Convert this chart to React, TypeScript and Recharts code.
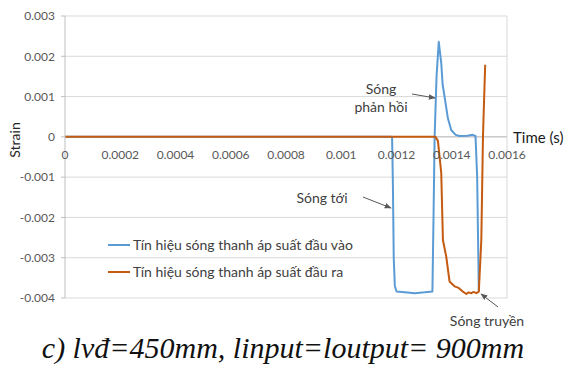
import { LineChart, Line, XAxis, YAxis, CartesianGrid, ReferenceLine, Legend } from "recharts";

const xTicks = [0, 0.0002, 0.0004, 0.0006, 0.0008, 0.001, 0.0012, 0.0014, 0.0016];
const yTicks = [-0.004, -0.003, -0.002, -0.001, 0, 0.001, 0.002, 0.003];

const seriesNames = ["Tín hiệu sóng thanh áp suất đầu vào", "Tín hiệu sóng thanh áp suất đầu ra"];

// input bar (blue)
const inputTime = [
  0, 0.001184, 0.001187, 0.00119, 0.001194, 0.0012, 0.00123, 0.001266, 0.001302, 0.00133, 0.001334,
  0.001338, 0.001345, 0.001353, 0.001362, 0.001367, 0.001374, 0.001386, 0.001398, 0.001414,
  0.001428, 0.001457, 0.001475, 0.001486, 0.001492, 0.001498,
];
const inputStrain = [
  0, 0, -0.0012, -0.003, -0.0037, -0.00384, -0.00386, -0.00388, -0.00386, -0.00384, -0.002,
  0, 0.0015, 0.00236, 0.00183, 0.0013, 0.001, 0.00046, 0.00017, 0.00005,
  0.00002, 0.00003, 0.00005, 0.00002, -0.001, -0.00384,
];

// output bar (orange)
const outputTime = [
  0, 0.001341, 0.00135, 0.001362, 0.001368, 0.00138, 0.001392, 0.00141, 0.001425, 0.00144,
  0.001453, 0.001461, 0.001471, 0.001479, 0.001489, 0.001498, 0.001507, 0.001513, 0.001521,
];
const outputStrain = [
  0, 0, -0.0001, -0.0009, -0.00256, -0.00297, -0.00359, -0.00371, -0.00375, -0.00384,
  -0.0039, -0.00386, -0.00388, -0.00385, -0.00388, -0.00384, -0.00256, 0, 0.00179,
];

const inputData = inputTime.map((t, i) => ({ t, v: inputStrain[i] }));
const outputData = outputTime.map((t, i) => ({ t, v: outputStrain[i] }));

const BLUE = "#5b9bd5";
const ORANGE = "#c55a11";
const FONT = "Lato, 'Open Sans', sans-serif";

const TOP = 16;
const PLOT_H = 282;
const ZERO_Y = TOP + (PLOT_H * 3) / 7;

function TimeTick(props: any) {
  const { x, payload } = props;
  return (
    <text x={x} y={ZERO_Y + 22} textAnchor="middle" fontSize={12} fill="#595959" fontFamily={FONT}>
      {payload.value}
    </text>
  );
}

function LegendBox(props: any) {
  const items = [...(props.payload || [])].sort(
    (a: any, b: any) => seriesNames.indexOf(a.value) - seriesNames.indexOf(b.value)
  );
  return (
    <div style={{ fontFamily: FONT, fontSize: 14, color: "#404040" }}>
      {items.map((it: any) => (
        <div key={it.value} style={{ display: "flex", alignItems: "center", height: 27 }}>
          <span style={{ display: "inline-block", width: 22, height: 2, background: it.color, marginRight: 3 }} />
          {it.value}
        </div>
      ))}
    </div>
  );
}

export default function App() {
  return (
    <div style={{ position: "absolute", left: 0, top: 0, width: 568, height: 365, background: "#fff" }}>
      <LineChart width={568} height={330} margin={{ top: TOP, right: 61, bottom: 12, left: 5 }}>
        <CartesianGrid stroke="#d9d9d9" vertical={false} />
        <XAxis
          type="number"
          dataKey="t"
          domain={[0, 0.0016]}
          ticks={xTicks}
          axisLine={false}
          tickLine={false}
          height={20}
          tick={<TimeTick />}
          allowDuplicatedCategory={false}
        />
        <YAxis
          type="number"
          domain={[-0.004, 0.003]}
          ticks={yTicks}
          width={60}
          axisLine={{ stroke: "#bfbfbf" }}
          tickLine={{ stroke: "#bfbfbf" }}
          tickSize={4}
          tickMargin={6}
          tick={{ fontSize: 12, fill: "#595959", fontFamily: FONT }}
        />
        <ReferenceLine y={0} stroke="#bfbfbf" />
        <ReferenceLine x={0.0016} stroke="#d9d9d9" />
        <Legend
          layout="vertical"
          verticalAlign="middle"
          align="center"
          content={<LegendBox />}
          wrapperStyle={{ position: "absolute", left: 108, top: 231, width: 300, height: 54 }}
        />
        <Line
          data={inputData}
          dataKey="v"
          name={seriesNames[0]}
          type="linear"
          stroke={BLUE}
          strokeWidth={2}
          strokeLinejoin="round"
          dot={false}
          isAnimationActive={false}
        />
        <Line
          data={outputData}
          dataKey="v"
          name={seriesNames[1]}
          type="linear"
          stroke={ORANGE}
          strokeWidth={2}
          strokeLinejoin="round"
          dot={false}
          isAnimationActive={false}
        />
      </LineChart>
      <svg
        width={568}
        height={365}
        style={{ position: "absolute", left: 0, top: 0, pointerEvents: "none" }}
        fontFamily={FONT}
      >
        <defs>
          <marker id="arr" viewBox="0 0 10 10" refX="9" refY="5" markerWidth="7" markerHeight="7" orient="auto">
            <path d="M0,1 L10,5 L0,9 z" fill="#595959" />
          </marker>
        </defs>
        <text x={14} y={140} transform="rotate(-90 14 140)" textAnchor="middle" dominantBaseline="central" fontSize={14} fill="#262626">
          Strain
        </text>
        <text x={513} y={137} dominantBaseline="central" fontSize={15} fill="#1a1a1a">
          Time (s)
        </text>
        <text x={381} y={88} textAnchor="middle" dominantBaseline="central" fontSize={14} fill="#404040">
          Sóng
        </text>
        <text x={381} y={106} textAnchor="middle" dominantBaseline="central" fontSize={14} fill="#404040">
          phản hồi
        </text>
        <line x1={412} y1={94} x2={435} y2={98} stroke="#595959" strokeWidth={1} markerEnd="url(#arr)" />
        <text x={322} y={197} textAnchor="middle" dominantBaseline="central" fontSize={14} fill="#404040">
          Sóng tới
        </text>
        <line x1={363} y1={197} x2={391} y2={208} stroke="#595959" strokeWidth={1} markerEnd="url(#arr)" />
        <text x={487} y={320} textAnchor="middle" dominantBaseline="central" fontSize={14} fill="#404040">
          Sóng truyền
        </text>
        <line x1={498} y1={307} x2={481} y2={294} stroke="#595959" strokeWidth={1} markerEnd="url(#arr)" />
        <text
          x={283}
          y={347}
          textAnchor="middle"
          dominantBaseline="central"
          fontSize={30}
          fontStyle="italic"
          fontFamily="'Liberation Serif', 'DejaVu Serif', serif"
          fill="#111"
        >
          c) lvđ=450mm, linput=loutput= 900mm
        </text>
      </svg>
    </div>
  );
}
